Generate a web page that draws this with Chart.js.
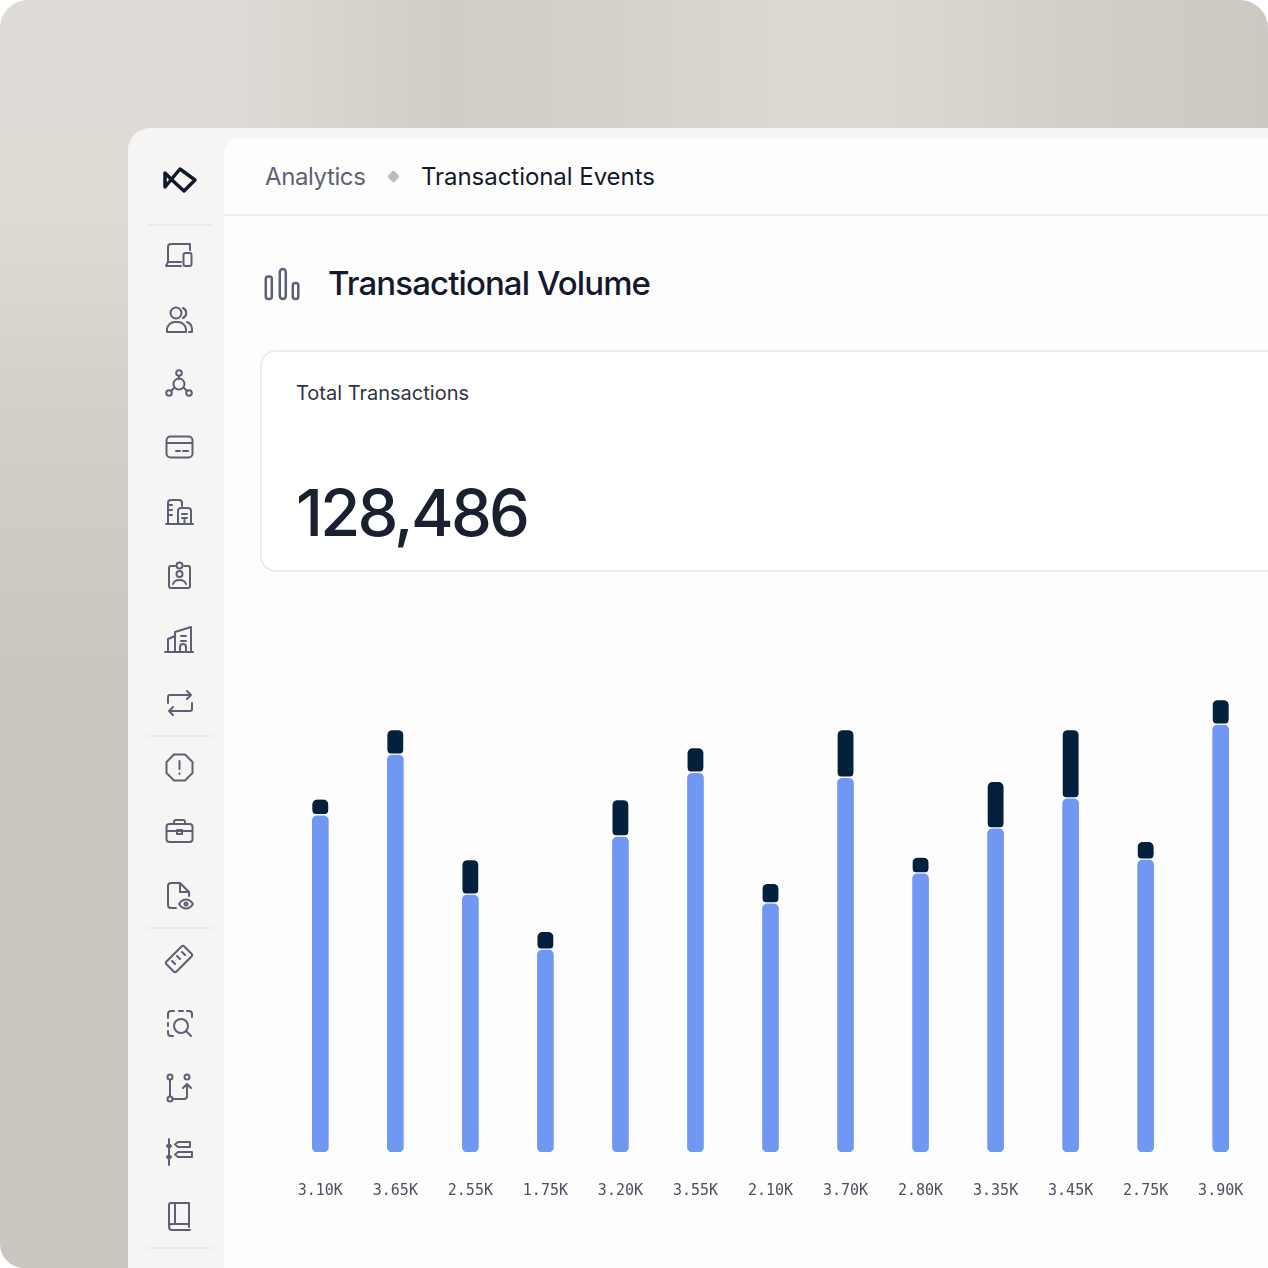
<!DOCTYPE html>
<html>
<head>
<meta charset="utf-8">
<title>Transactional Volume</title>
<script src="https://cdn.jsdelivr.net/npm/chart.js@4"></script>
<style>
html, body { margin: 0; padding: 0; background: #fff; }
body { width: 1268px; height: 1268px; overflow: hidden; position: relative; font-family: Inter, sans-serif; }
.abs { position: absolute; white-space: nowrap; }
#frame { left: 0; top: 0; width: 1268px; height: 1268px; border-radius: 28px 28px 0 24px;
  background: linear-gradient(90deg, #dfdcd7 0%, #dedbd6 19%, #d0cdc5 35%, #d4d1ca 48%, #dcd9d3 62%, #dbd8d2 72%, #d2cfc8 84%, #cdc9c2 100%) 0 0 / 100% 128px no-repeat,
              linear-gradient(180deg, #dfdcd7 0%, #dedbd5 17%, #d2cec8 33%, #cbc7c0 52%, #cbc7c0 100%); }
#side { left: 128px; top: 128px; width: 1140px; height: 1140px; border-radius: 22px 0 0 0; background: #f6f5f4; }
#main { left: 224px; top: 138px; width: 1044px; height: 1130px; border-radius: 16px 0 0 0; background: #fdfdfe; }
.sep { position: absolute; left: 148px; width: 64px; height: 2px; background: #ecebea; }
#head { left: 224px; top: 214px; width: 1044px; height: 2px; background: #f0f0f0; }
#crumb1 { left: 265px; top: 161px; font-size: 24px; line-height: 32px; color: #5d6372; letter-spacing: -0.4px; }
#crumb2 { left: 421px; top: 161px; font-size: 24px; line-height: 32px; color: #141a2b; letter-spacing: -0.05px; }
#dot { left: 388.500px; top: 171.500px; width: 9px; height: 9px; background: #b9bcc2; border-radius: 2px; transform: rotate(45deg); }
#title { left: 328px; top: 262px; font-size: 33px; line-height: 42px; font-weight: 500; color: #141a2b; letter-spacing: -0.9px; }
#card { left: 260px; top: 350px; width: 1020px; height: 218px; border: 2px solid #ebebec; border-radius: 16px; background: #fff; }
#cardlabel { left: 296px; top: 379px; font-size: 20px; line-height: 28px; color: #2f3543; }
#total { left: 296px; top: 474px; font-size: 65px; line-height: 78px; font-weight: 500; color: #1b2030; letter-spacing: -2.8px; }
#chartbox { left: 276px; top: 677px; width: 989px; height: 545px; }
svg.icon { position: absolute; fill: none; stroke: #5b6072; stroke-width: 2; stroke-linecap: round; stroke-linejoin: round; }
</style>
</head>
<body>
<div class="abs" id="frame"></div>
<div class="abs" id="side"></div>
<div class="abs" id="main"></div>
<div class="sep" style="top:224px"></div>
<div class="sep" style="top:735px"></div>
<div class="sep" style="top:927px"></div>
<div class="sep" style="top:1247px"></div>
<div class="abs" id="head"></div>

<svg class="icon" style="left:160px;top:164px;stroke:#12172a;stroke-width:3.500" width="40" height="32" viewBox="0 0 40 32"><path d="M5 23L20 5L35 16L24 27L12 16L5 9z"/></svg>
<svg class="icon" style="left:165px;top:241px" width="30" height="30" viewBox="0 0 30 30"><path d="M3 21V6a3 3 0 0 1 3-3h19v6 M1 25h15 M1 25l2-4h13"/><rect x="18.500" y="12" width="8" height="13" rx="2"/></svg>
<svg class="icon" style="left:165px;top:305px" width="30" height="30" viewBox="0 0 30 30"><circle cx="11" cy="8" r="5.500"/><path d="M2 27v-3a8 8 0 0 1 8-7h3a8 8 0 0 1 8 7v3z M18 3a5.500 5.500 0 0 1 0 10 M22 17a8 8 0 0 1 5 7v3h-3"/></svg>
<svg class="icon" style="left:165px;top:369px" width="30" height="30" viewBox="0 0 30 30"><circle cx="14" cy="15" r="5.500"/><circle cx="14" cy="4" r="2.800"/><circle cx="4" cy="24" r="2.800"/><circle cx="24" cy="24" r="2.800"/><path d="M14 7v3 M9 19l-3 3 M19 19l3 3"/></svg>
<svg class="icon" style="left:165px;top:433px" width="30" height="30" viewBox="0 0 30 30"><rect x="1.500" y="3.500" width="26" height="21" rx="4"/><path d="M2 10h25 M11 18h4 M18 18h5"/></svg>
<svg class="icon" style="left:165px;top:497px" width="30" height="30" viewBox="0 0 30 30"><path d="M1 27h27 M3 27V6a3 3 0 0 1 3-3h8a3 3 0 0 1 3 3v3 M13 27V14a3 3 0 0 1 3-3h7a3 3 0 0 1 3 3v13 M3 8h4 M3 13h4 M3 18h4 M17 17h5 M17 21h5 M19.500 21v6"/></svg>
<svg class="icon" style="left:165px;top:561px" width="30" height="30" viewBox="0 0 30 30"><path d="M10 5H6a2 2 0 0 0-2 2v18a2 2 0 0 0 2 2h17a2 2 0 0 0 2-2V7a2 2 0 0 0-2-2h-4"/><circle cx="14.500" cy="4.500" r="3"/><circle cx="14.500" cy="13" r="3"/><path d="M8 23c1-3 3-4 6.500-4s5.500 1 6.500 4"/></svg>
<svg class="icon" style="left:163px;top:625px" width="32" height="30" viewBox="0 0 32 30"><path d="M2 27h28 M5 27V14l7-3 M12 27V7l16-5v25 M18 11h5 M18 16h5 M17 27v-5a3 3 0 0 1 6 0v5"/></svg>
<svg class="icon" style="left:165px;top:689px" width="30" height="30" viewBox="0 0 30 30"><path d="M3 14V8a2 2 0 0 1 2-2h21 M22 2l4 4-4 4 M27 14v6a2 2 0 0 1-2 2H4 M8 18l-4 4 4 4"/></svg>
<svg class="icon" style="left:165px;top:753px" width="30" height="30" viewBox="0 0 30 30"><path d="M9 1.500h11l7.500 7.500v11L20 27.500H9L1.500 20V9z"/><path d="M14.500 8v8 M14.500 20.500v.5"/></svg>
<svg class="icon" style="left:165px;top:817px" width="30" height="30" viewBox="0 0 30 30"><rect x="1.500" y="7" width="26" height="18" rx="3"/><path d="M9 7V5a2 2 0 0 1 2-2h7a2 2 0 0 1 2 2v2 M2 14h25"/><rect x="12" y="13" width="5" height="4"/></svg>
<svg class="icon" style="left:165px;top:881px" width="30" height="30" viewBox="0 0 30 30"><path d="M11 27H6a3 3 0 0 1-3-3V5a3 3 0 0 1 3-3h9l9 9v4 M15 2v9h9"/><path d="M14 23c2-3 4-4.500 7-4.500s5 1.500 7 4.500c-2 3-4 4.500-7 4.500s-5-1.500-7-4.500z"/><circle cx="21" cy="23" r="1.500"/></svg>
<svg class="icon" style="left:164px;top:944px" width="30" height="30" viewBox="0 0 30 30"><path d="M2.500 17.500L17.500 2.500a2 2 0 0 1 2.800 0l7.200 7.200a2 2 0 0 1 0 2.800L12.500 27.500a2 2 0 0 1-2.800 0l-7.200-7.200a2 2 0 0 1 0-2.800z M8 17l3 3 M13 12l3 3 M18 8l3 3"/></svg>
<svg class="icon" style="left:165px;top:1009px" width="30" height="30" viewBox="0 0 30 30"><path d="M3 9V5a3 3 0 0 1 3-3h3 M14 2h4 M22 2h2a3 3 0 0 1 3 3v3 M3 14v3 M3 22v2a3 3 0 0 0 3 3h2"/><circle cx="16" cy="17" r="7"/><path d="M21 22l5 5"/></svg>
<svg class="icon" style="left:165px;top:1073px" width="30" height="30" viewBox="0 0 30 30"><circle cx="5" cy="4" r="2.500"/><circle cx="5" cy="26" r="2.500"/><circle cx="22" cy="4" r="2.500"/><path d="M5 7v16 M8 26h11a3 3 0 0 0 3-3V11 M18 15l4-4 4 4"/></svg>
<svg class="icon" style="left:165px;top:1137px" width="30" height="30" viewBox="0 0 30 30"><path d="M4 2v26 M2 9l2-2 2 2-2 2z M2 20l2-2 2 2-2 2z"/><path d="M13 5h12v5H13l-3-2.500z M13 15h14v5H13l-3-2.500z"/></svg>
<svg class="icon" style="left:165px;top:1201px" width="30" height="30" viewBox="0 0 30 30"><path d="M4 24V4a2 2 0 0 1 2-2h18v21H7a3 3 0 0 0 0 6h18 M10 2v21 M24 23v3"/></svg>

<div class="abs" id="crumb1">Analytics</div>
<div class="abs" id="dot"></div>
<div class="abs" id="crumb2">Transactional Events</div>

<svg class="icon" style="left:262px;top:266px;stroke-width:2.500" width="40" height="36" viewBox="0 0 40 36"><rect x="3.800" y="10.500" width="6" height="22.500" rx="2.500"/><rect x="17.800" y="3" width="6" height="30" rx="3"/><rect x="30.800" y="17" width="5.500" height="16" rx="2.500"/></svg>
<div class="abs" id="title">Transactional Volume</div>

<div class="abs" id="card"></div>
<div class="abs" id="cardlabel">Total Transactions</div>
<div class="abs" id="total">128,486</div>

<div class="abs" id="chartbox"><canvas id="volumeChart"></canvas></div>

<script>
var categories = ["3.10K","3.65K","2.55K","1.75K","3.20K","3.55K","2.10K","3.70K","2.80K","3.35K","3.45K","2.75K","3.90K"];
var settledValues = [2690,3175,2055,1615,2520,3030,1985,2990,2225,2585,2825,2335,3415];
var pendingValues = [130,200,280,145,295,200,160,385,130,375,550,145,200];

new Chart(document.getElementById("volumeChart").getContext("2d"), {
    type: 'bar',
    data: {
        labels: categories,
        datasets: [{
            label: 'Settled',
            data: settledValues,
            backgroundColor: '#7097f2',
            barThickness: 16,
            borderSkipped: false,
            borderRadius: { topLeft: 5, topRight: 5, bottomLeft: 5, bottomRight: 5 }
        }, {
            label: 'Pending',
            data: pendingValues,
            backgroundColor: '#03203d',
            borderColor: '#fdfdfe',
            borderWidth: { bottom: 2 },
            barThickness: 16,
            borderSkipped: false,
            borderRadius: { topLeft: 5, topRight: 5, bottomLeft: 6, bottomRight: 6 }
        }]
    },
    options: {
        responsive: true,
        maintainAspectRatio: false,
        animation: false,
        plugins: { legend: { display: false }, tooltip: { enabled: false } },
        scales: {
            x: {
                stacked: true,
                grid: { display: false },
                border: { display: false },
                ticks: { color: '#4c5161', font: { family: 'DejaVu Sans Mono', size: 15 }, padding: 22, maxRotation: 0, autoSkip: false }
            },
            y: {
                stacked: true,
                display: false,
                min: 0,
                max: 3800
            }
        }
    }
});
</script>
</body>
</html>
